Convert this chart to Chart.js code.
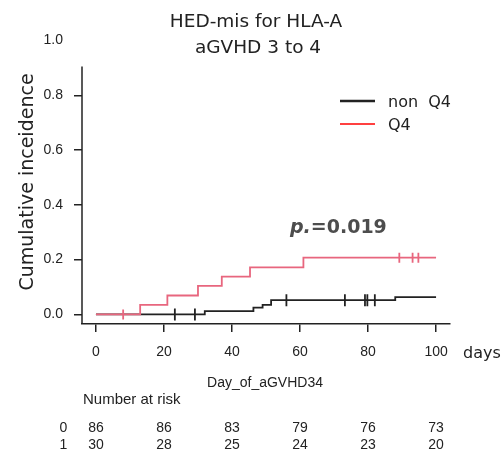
<!DOCTYPE html>
<html>
<head>
<meta charset="utf-8">
<script src="https://cdn.jsdelivr.net/npm/chart.js@4.4.0/dist/chart.umd.min.js"></script>
<style>html,body{margin:0;padding:0;background:#fff}</style>
</head>
<body>
<canvas id="km" width="501" height="454"></canvas>
<script>
// axis ticks
const xTicks = [0, 20, 40, 60, 80, 100];
const yTicks = [0, 0.2, 0.4, 0.6, 0.8, 1.0];

// cumulative incidence, non Q4
const nonQ4Days = [0, 32, 46.3, 49, 51.5, 88, 100];
const nonQ4Cif = [0, 0.012, 0.025, 0.035, 0.052, 0.063, 0.063];
const nonQ4Censor = [23.2, 29.1, 56, 73.2, 79.1, 79.8, 82];

// cumulative incidence, Q4
const q4Days = [0, 13, 21, 30, 37, 45.3, 61, 100];
const q4Cif = [0, 0.035, 0.069, 0.104, 0.138, 0.172, 0.207, 0.207];
const q4Censor = [8, 89.2, 93.1, 94.8];

// number at risk
const riskDays = [0, 20, 40, 60, 80, 100];
const riskNonQ4 = [86, 86, 83, 79, 76, 73];
const riskQ4 = [30, 28, 25, 24, 23, 20];

const BLACK = '#222222';
const PINK = '#e8667e';

function stepAt(days, vals, t) {
  let v = vals[0];
  for (let i = 0; i < days.length; i++) if (days[i] <= t) v = vals[i];
  return v;
}
const pts = (days, vals) => days.map((d, i) => ({x: d, y: vals[i]}));
const censorPts = (cens, days, vals) => cens.map(t => ({x: t, y: stepAt(days, vals, t)}));

const extras = {
  id: 'extras',
  afterDraw(chart) {
    const ctx = chart.ctx, xs = chart.scales.x, ys = chart.scales.y;
    ctx.save();
    // y axis line (stops short of 1.0 like the original)
    ctx.strokeStyle = BLACK;
    ctx.lineWidth = 1.5;
    ctx.beginPath();
    ctx.moveTo(xs.left, ys.getPixelForValue(0.905));
    ctx.lineTo(xs.left, ys.bottom);
    ctx.stroke();

    ctx.fillStyle = BLACK;
    ctx.textBaseline = 'alphabetic';
    // title
    ctx.font = '18.5px "DejaVu Sans"';
    ctx.textAlign = 'center';
    ctx.fillText('HED-mis for HLA-A', 256, 27);
    ctx.fillText('aGVHD 3 to 4', 258, 53);

    // y title
    ctx.save();
    ctx.font = '19px "DejaVu Sans"';
    ctx.translate(33, 182);
    ctx.rotate(-Math.PI / 2);
    ctx.fillText('Cumulative inceidence', 0, 0);
    ctx.restore();

    // legend
    ctx.lineWidth = 2.5;
    ctx.strokeStyle = BLACK;
    ctx.beginPath(); ctx.moveTo(340, 101); ctx.lineTo(375, 101); ctx.stroke();
    ctx.lineWidth = 1.5;
    ctx.strokeStyle = '#ff0000';
    ctx.beginPath(); ctx.moveTo(340, 124); ctx.lineTo(375, 124); ctx.stroke();
    ctx.font = '16px "DejaVu Sans"';
    ctx.textAlign = 'left';
    ctx.fillText('non  Q4', 388, 107);
    ctx.fillText('Q4', 388, 130);

    // p value
    ctx.fillStyle = '#4d4d4d';
    ctx.font = 'italic bold 19px "DejaVu Sans"';
    ctx.fillText('p.', 290, 233);
    const w = ctx.measureText('p.').width;
    ctx.font = 'bold 19px "DejaVu Sans"';
    ctx.fillText('=0.019', 290 + w, 233);

    // days
    ctx.fillStyle = BLACK;
    ctx.font = '16px "DejaVu Sans"';
    ctx.fillText('days', 463, 358);

    // x title and risk table
    ctx.font = '14px "Liberation Sans"';
    ctx.textAlign = 'center';
    ctx.fillText('Day_of_aGVHD34', 265, 386.5);
    ctx.font = '15px "Liberation Sans"';
    ctx.textAlign = 'left';
    ctx.fillText('Number at risk', 83, 404);
    ctx.font = '14px "Liberation Sans"';
    ctx.textAlign = 'center';
    ctx.fillText('0', 63.5, 431.5);
    ctx.fillText('1', 63.5, 448.5);
    riskDays.forEach((d, i) => {
      const px = xs.getPixelForValue(d);
      ctx.fillText(String(riskNonQ4[i]), px, 431.5);
      ctx.fillText(String(riskQ4[i]), px, 448.5);
    });
    ctx.restore();
  }
};

new Chart(document.getElementById('km').getContext('2d'), {
  type: 'line',
  data: {
    datasets: [
      {label: 'Q4 censor', data: censorPts(q4Censor, q4Days, q4Cif), showLine: false,
        pointStyle: 'line', rotation: 90, pointRadius: 5, borderColor: PINK, borderWidth: 1.8},
      {label: 'Q4', data: pts(q4Days, q4Cif), stepped: 'before', borderColor: PINK,
        borderWidth: 1.8, pointRadius: 0, fill: false},
      {label: 'non Q4 censor', data: censorPts(nonQ4Censor, nonQ4Days, nonQ4Cif), showLine: false,
        pointStyle: 'line', rotation: 90, pointRadius: 6, borderColor: BLACK, borderWidth: 1.8},
      {label: 'non Q4', data: pts(nonQ4Days, nonQ4Cif), stepped: 'before', borderColor: BLACK,
        borderWidth: 1.8, pointRadius: 0, fill: false}
    ]
  },
  options: {
    responsive: false,
    animation: false,
    layout: {padding: {left: 0, right: 51, top: 40.5, bottom: 0}},
    plugins: {legend: {display: false}, tooltip: {enabled: false}},
    scales: {
      x: {
        type: 'linear', min: -4.1, max: 104.1,
        afterBuildTicks: s => { s.ticks = xTicks.map(v => ({value: v})); },
        afterFit: s => { s.height = 130; },
        grid: {drawOnChartArea: false, drawTicks: true, tickLength: 8, color: BLACK, lineWidth: 1.5},
        border: {display: true, color: BLACK, width: 1.5},
        ticks: {padding: 12, color: BLACK, font: {family: 'Liberation Sans', size: 14}}
      },
      y: {
        type: 'linear', min: -0.035, max: 1.0,
        afterBuildTicks: s => { s.ticks = yTicks.map(v => ({value: v})); },
        afterFit: s => { s.width = 82; },
        grid: {drawOnChartArea: false, drawTicks: true, tickLength: 8, lineWidth: 1.5,
          color: c => (c.tick && c.tick.value >= 1 ? 'rgba(0,0,0,0)' : BLACK)},
        border: {display: false},
        ticks: {padding: 11, color: BLACK, font: {family: 'Liberation Sans', size: 14},
          callback: v => v.toFixed(1)}
      }
    }
  },
  plugins: [extras]
});
</script>
</body>
</html>
